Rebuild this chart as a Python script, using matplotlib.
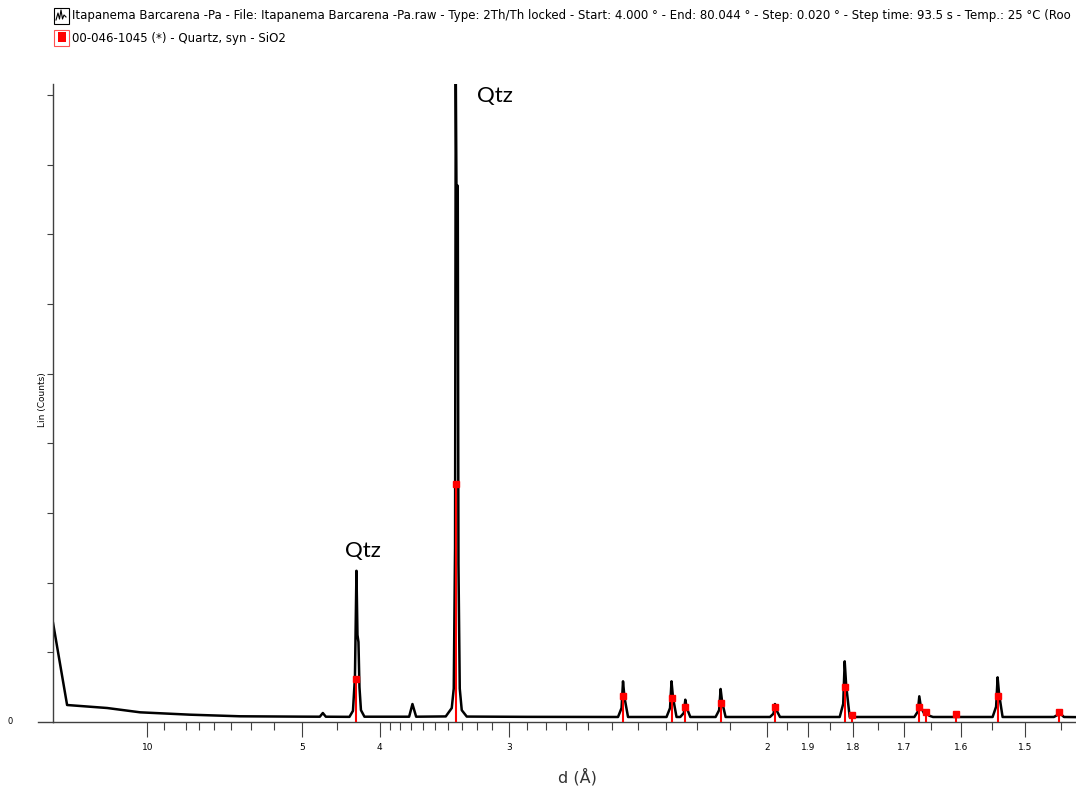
import numpy as np
import matplotlib
matplotlib.use("Agg")
import matplotlib.pyplot as plt
from matplotlib.patches import Rectangle
from matplotlib.lines import Line2D
from matplotlib.ticker import FixedLocator, FixedFormatter, NullFormatter

W, H = 1076, 787

pattern_d = [25.47, 20.70, 13.49, 10.48, 7.832, 6.252, 5.033,
             4.7308, 4.6877, 4.6456,
             4.3384, 4.2963, 4.2726, 4.255, 4.2432, 4.2317, 4.2201, 4.2030, 4.1635,
             3.7173, 3.688, 3.6559,
             3.4172, 3.3726, 3.3580, 3.3485, 3.3435, 3.3385, 3.3291, 3.3241, 3.3149, 3.3008, 3.2660,
             2.9000,
             2.4765, 2.4627, 2.4569, 2.4511, 2.4375,
             2.2984, 2.2865, 2.2815, 2.2765, 2.2648,
             2.2524, 2.2409, 2.2361, 2.2313, 2.2201,
             2.1425, 2.1321, 2.1277, 2.1233, 2.1132,
             1.9926, 1.9837, 1.9799, 1.9761, 1.9673,
             1.8287, 1.8212, 1.8180, 1.8148, 1.8074,
             1.6807, 1.6744, 1.6717, 1.6690, 1.6636, 1.6592, 1.6539, 1.6474,
             1.5492, 1.5438, 1.5415, 1.5392, 1.5339,
             1.4598, 1.4550, 1.4529, 1.4509, 1.4461,
             1.4297]
pattern_counts = [1420, 244, 201, 139, 105, 82, 77,
                  76, 129, 76,
                  74, 160, 650, 2171, 1250, 1148, 500, 170, 76,
                  76, 258, 76,
                  80, 200, 480, 2500, 9400, 7700, 7700, 2267, 480, 170, 78,
                  74,
                  72, 200, 584, 350, 72,
                  72, 200, 584, 350, 72,
                  72, 130, 320, 200, 72,
                  72, 170, 474, 290, 72,
                  72, 120, 258, 170, 72,
                  72, 260, 871, 520, 72,
                  72, 150, 369, 220, 130, 139, 90, 72,
                  72, 220, 641, 400, 72,
                  72, 100, 148, 120, 72,
                  70]

# reference card 00-046-1045 quartz sticks
quartz_d = [4.2550, 3.3435, 2.4569, 2.2815, 2.2361, 2.1277, 1.9799,
            1.8180, 1.8017, 1.6717, 1.6592, 1.6083, 1.5415, 1.4529]
quartz_counts = [617, 3415, 377, 340, 220, 268, 220,
                 507, 105, 220, 148, 115, 377, 148]

major_ticks = [10, 5, 4, 3, 2, 1.9, 1.8, 1.7, 1.6, 1.5]
major_labels = ["10", "5", "4", "3", "2", "1.9", "1.8", "1.7", "1.6", "1.5"]
minor_ticks = [9, 8, 7.5, 7, 6.5, 6, 5.5, 4.5, 3.9, 3.8, 3.7, 3.6, 3.5, 3.4,
               3.3, 3.2, 3.1, 2.9, 2.8, 2.7, 2.6, 2.5, 2.4, 2.3, 2.2, 2.1,
               1.95, 1.85, 1.75, 1.65, 1.55, 1.45]
y_ticks = [1000, 2000, 3000, 4000, 5000, 6000, 7000, 8000, 9000]

# first header line is cut off at the window edge in the original
header1 = ("Itapanema Barcarena -Pa - File: Itapanema Barcarena -Pa.raw - Type: 2Th/Th locked"
           " - Start: 4.000 \u00b0 - End: 80.044 \u00b0 - Step: 0.020 \u00b0 - Step time: 93.5 s"
           " - Temp.: 25 \u00b0C (Roo")
header2 = "00-046-1045 (*) - Quartz, syn - SiO2"


def inv(d):
    d = np.asarray(d, dtype=float)
    with np.errstate(divide="ignore"):
        return 1.0 / d


def fx(x):
    return x / W


def fy(y):
    return 1 - y / H


axis_col = "#404040"

fig = plt.figure(figsize=(W / 100, H / 100), dpi=100)
ax = fig.add_axes([fx(53), fy(722), 1 - fx(53), (722 - 84) / H])
ax.set_xlim(1.43, 25.5)
ax.set_ylim(0, 9160)
ax.set_xscale("function", functions=(inv, inv))
ax.set_autoscale_on(False)
ax.set_xlim(1.43, 25.5)

ax.plot(pattern_d, pattern_counts, color="black", lw=1.8, zorder=2)
ax.vlines(quartz_d, 0, quartz_counts, color="red", lw=1.5, zorder=3)
ax.plot(quartz_d, quartz_counts, "s", color="red", ms=4.3, zorder=4)

for s in ["top", "right"]:
    ax.spines[s].set_visible(False)
for s in ["left", "bottom"]:
    ax.spines[s].set_color(axis_col)
    ax.spines[s].set_linewidth(1)

ax.xaxis.set_major_locator(FixedLocator(major_ticks))
ax.xaxis.set_major_formatter(FixedFormatter(major_labels))
ax.xaxis.set_minor_locator(FixedLocator(minor_ticks))
ax.xaxis.set_minor_formatter(NullFormatter())
ax.tick_params(axis="x", which="major", length=11, width=0.8, pad=4,
               labelsize=6.5, color=axis_col)
ax.tick_params(axis="x", which="minor", length=5.5, width=0.8, color=axis_col)
ax.set_yticks(y_ticks)
ax.set_yticklabels([])
ax.tick_params(axis="y", length=4.3, width=0.8, color=axis_col)

# x axis line runs a bit past the y axis
ax.plot([-15 / (W - 53), 0], [0, 0], transform=ax.get_yaxis_transform(),
        color=axis_col, lw=1, clip_on=False)

ax.text(4.184, 2367, "Qtz", fontfamily="Lato", fontsize=16, ha="center", va="baseline")
ax.text(3.0816, 8895, "Qtz", fontfamily="Lato", fontsize=16, ha="center", va="baseline")

fig.text(fx(10), fy(722), "0", fontsize=6, ha="center", va="center")
fig.text(fx(42), fy(400), "Lin (Counts)", rotation=90, fontsize=6.5,
         ha="center", va="center")
fig.text(fx(577), fy(777), "d (\u00c5)", fontsize=11.5, ha="center", va="center",
         color="#333333")

# header lines with their legend icons
fig.text(fx(72), fy(16), header1, fontsize=8.5, ha="left", va="center")
fig.text(fx(72), fy(38.6), header2, fontsize=8.5, ha="left", va="center")

fig.add_artist(Rectangle((fx(54), fy(24)), 15 / W, 16 / H, transform=fig.transFigure,
                         fill=False, edgecolor="black", lw=0.8))
zx = [56, 58, 59.5, 61, 62.5, 64, 66]
zy = [20, 13, 19, 10, 19, 15, 17]
fig.add_artist(Line2D([fx(v) for v in zx], [fy(v) for v in zy],
                      transform=fig.transFigure, color="black", lw=0.8))
fig.add_artist(Rectangle((fx(54), fy(46)), 15 / W, 16 / H, transform=fig.transFigure,
                         fill=False, edgecolor="#ff5050", lw=0.8))
fig.add_artist(Rectangle((fx(58), fy(41.5)), 8 / W, 9 / H, transform=fig.transFigure,
                         facecolor="red", edgecolor="none"))

fig.savefig("out.png", dpi=100)
